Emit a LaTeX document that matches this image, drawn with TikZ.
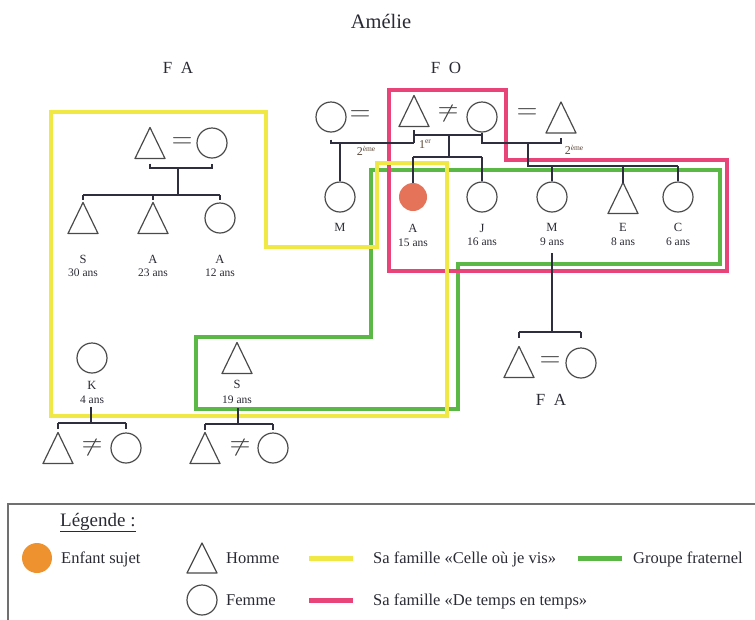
\documentclass[tikz,border=0pt]{standalone}
\usepackage{graphicx}
\usepackage{fontspec}
\setmainfont{Liberation Serif}
\usetikzlibrary{calc}
\definecolor{famyellow}{HTML}{EFE845}
\definecolor{famgreen}{HTML}{5BB847}
\definecolor{fampink}{HTML}{E8447A}
\definecolor{subj}{HTML}{E5735A}
\definecolor{subjleg}{HTML}{EE9230}
\definecolor{symcol}{HTML}{4A4A4A}
\definecolor{linkcol}{HTML}{2E2E3E}
\definecolor{txtcol}{HTML}{2A2A35}
\definecolor{ordcol}{HTML}{5A4636}
\definecolor{boxcol}{HTML}{707070}
\newcommand{\releq}{\scalebox{2.7}{$=$}}
\newcommand{\ordsup}[1]{\raisebox{4.5pt}{\fontsize{7.5}{8}\selectfont #1}}
\tikzset{
  man/.style={minimum width=30pt, minimum height=31pt, inner sep=0pt, outer sep=0pt,
    append after command={\pgfextra{\draw[symcol, line width=1.2pt, line join=round]
      (\tikzlastnode.south west) -- (\tikzlastnode.north) -- (\tikzlastnode.south east) -- cycle;}}},
  woman/.style={circle, draw=symcol, line width=1.2pt, minimum size=30pt, inner sep=0pt},
  subject/.style={circle, fill=subj, minimum size=28pt, inner sep=0pt},
  pname/.style={font=\fontsize{12.5}{13}\selectfont, text=txtcol, inner sep=0pt},
  agetext/.style={font=\fontsize{11.5}{12}\selectfont, text=txtcol, inner sep=0pt},
  kinlink/.style={draw=linkcol, line width=1.1pt},
  rel/.style={text=symcol, inner sep=0pt},
  relneq/.style={text=symcol, inner sep=0pt,
    append after command={\pgfextra{\draw[symcol, line width=1.1pt]
      ([shift={(-4.5pt,-8.5pt)}]\tikzlastnode.center) -- ([shift={(4.5pt,8.5pt)}]\tikzlastnode.center);}}},
  ordtext/.style={font=\fontsize{12}{12}\selectfont, text=ordcol, inner sep=0pt},
  famtitle/.style={font=\fontsize{17}{17}\selectfont, text=txtcol, inner sep=0pt},
  famline/.style={line width=4pt, line join=miter},
  legtext/.style={font=\fontsize{16.5}{17}\selectfont, text=txtcol, anchor=base west, inner sep=0pt},
  legline/.style={line width=5pt},
}
\begin{document}
\begin{tikzpicture}[x=1pt, y=-1pt]
\useasboundingbox (0,0) rectangle (755,619);

% titles
\node[font=\fontsize{20.5}{21}\selectfont, text=txtcol, anchor=base, inner sep=0pt] (title) at (381,28.5) {Amélie};
\node[famtitle] (faL) at (178,68) {F~~A};
\node[famtitle] (fo) at (446,68) {F~~O};

% coloured groups
\draw[famline, famgreen] (371,170) -- (720,170) -- (720,264) -- (458,264) -- (458,409) -- (196,409) -- (196,337) -- (371,337) -- cycle;
\draw[famline, fampink] (389,90) -- (506,90) -- (506,160) -- (727,160) -- (727,271) -- (389,271) -- cycle;
\draw[famline, famyellow] (51,112) -- (266,112) -- (266,247) -- (377,247) -- (377,163) -- (447,163) -- (447,416) -- (51,416) -- cycle;

% ---------- left FA family ----------
\node[man] (gf) at (150,143) {};
\node[rel] (eqA) at (182,143) {\releq};
\node[woman] (gm) at (212,143) {};
\node[man] (s1) at (83,218) {};
\node[man] (a1) at (153,218) {};
\node[woman] (a2) at (220,218) {};
\node[pname] (s1n) at (83,259) {S};
\node[agetext] (s1a) at (83,273) {30 ans};
\node[pname] (a1n) at (153,259) {A};
\node[agetext] (a1a) at (153,273) {23 ans};
\node[pname] (a2n) at (220,259) {A};
\node[agetext] (a2a) at (220,273) {12 ans};
\coordinate (jA) at (178,168);
\coordinate (kA) at (178,195);
\draw[kinlink] ([yshift=-5pt]gf.south) -- (gf.south |- jA) -- (gm.south |- jA) -- ([yshift=-5pt]gm.south);
\draw[kinlink] (jA) -- (kA);
\draw[kinlink] (s1.north |- kA) -- (a2.north |- kA);
\draw[kinlink] (s1.north |- kA) -- ++(0,5);
\draw[kinlink] (a1.north |- kA) -- ++(0,5);
\draw[kinlink] (a2.north |- kA) -- ++(0,5);

% ---------- FO family ----------
\node[woman] (cL) at (331,117) {};
\node[rel] (eq1) at (360,116) {\releq};
\node[man] (tF) at (414,111) {};
\node[relneq] (ne1) at (448,113) {\releq};
\node[woman] (cM) at (482,117) {};
\node[rel] (eq2) at (527,114) {\releq};
\node[man] (tR) at (561,117.5) {};

\node[woman] (mL) at (340,197) {};
\node[subject] (sub) at (413,197) {};
\node[woman] (jJ) at (482,197) {};
\node[woman] (mR) at (552,197) {};
\node[man] (eE) at (623,198) {};
\node[woman] (cC) at (678,197) {};

\node[pname] (mLn) at (340,227) {M};
\node[pname] (subn) at (413,228) {A};
\node[agetext] (suba) at (413,243) {15 ans};
\node[pname] (jJn) at (482,228) {J};
\node[agetext] (jJa) at (482,242) {16 ans};
\node[pname] (mRn) at (552,227) {M};
\node[agetext] (mRa) at (552,242) {9 ans};
\node[pname] (eEn) at (623,227) {E};
\node[agetext] (eEa) at (623,242) {8 ans};
\node[pname] (cCn) at (678,227) {C};
\node[agetext] (cCa) at (678,242) {6 ans};

\coordinate (m1) at (449,135);
\coordinate (m2) at (449,143);
\coordinate (k1) at (449,157);
\coordinate (m3) at (528,143);
\coordinate (k2) at (528,166);

\draw[kinlink] ([yshift=-3.5pt]tF.south) -- (tF.south |- m2);
\draw[kinlink] (tF.south |- m1) -- (cM.south |- m1);
\draw[kinlink] ([yshift=-7pt]cL.south) -- (cL.south |- m2) -- (tF.south |- m2);
\draw[kinlink] (cM.south) -- (cM.south |- m2) -- (tR.south |- m2) -- ([yshift=-5pt]tR.south);
\draw[kinlink] (m1) -- (k1);
\draw[kinlink] (sub.north |- k1) -- (jJ.north |- k1);
\draw[kinlink] (sub.north |- k1) -- (sub.north);
\draw[kinlink] (jJ.north |- k1) -- (jJ.north);
\draw[kinlink] (mL.north |- m2) -- (mL.north);
\draw[kinlink] (m3) -- (k2) -- (cC.north |- k2);
\draw[kinlink] (mR.north |- k2) -- (mR.north);
\draw[kinlink] (eE.north |- k2) -- (eE.north);
\draw[kinlink] (cC.north |- k2) -- (cC.north);

\node[ordtext] (o1) at (366,151) {2\ordsup{ème}};
\node[ordtext] (o2) at (425,144) {1\ordsup{er}};
\node[ordtext] (o3) at (574,150) {2\ordsup{ème}};

% ---------- right FA family ----------
\node[man] (rf) at (519,362) {};
\node[rel] (eqR) at (550,362) {\releq};
\node[woman] (rm) at (581,363) {};
\node[famtitle] (faR) at (551,400) {F~~A};
\coordinate (dR) at (552,253);
\coordinate (jR) at (552,332);
\draw[kinlink] (dR) -- (jR);
\draw[kinlink] (rf.north |- jR) -- (rm.north |- jR);
\draw[kinlink] (rf.north |- jR) -- ++(0,6);
\draw[kinlink] (rm.north |- jR) -- ++(0,6);

% ---------- K ----------
\node[woman] (kK) at (92,358) {};
\node[pname] (kKn) at (92,385) {K};
\node[agetext] (kKa) at (92,400) {4 ans};
\node[man] (kf) at (58,448) {};
\node[relneq] (neK) at (92,447) {\releq};
\node[woman] (km) at (126,448) {};
\coordinate (dK) at (91,407);
\coordinate (jK) at (91,423);
\draw[kinlink] (dK) -- (jK);
\draw[kinlink] (kf.north |- jK) -- (km.north |- jK);
\draw[kinlink] (kf.north |- jK) -- ++(0,6);
\draw[kinlink] (km.north |- jK) -- ++(0,6);

% ---------- S 19 ----------
\node[man] (sS) at (237,358) {};
\node[pname] (sSn) at (237,384) {S};
\node[agetext] (sSa) at (237,400) {19 ans};
\node[man] (sf) at (205,448) {};
\node[relneq] (neS) at (240,447) {\releq};
\node[woman] (sm) at (273,448) {};
\coordinate (dS) at (238,408);
\coordinate (jS) at (238,424);
\draw[kinlink] (dS) -- (jS);
\draw[kinlink] (sf.north |- jS) -- (sm.north |- jS);
\draw[kinlink] (sf.north |- jS) -- ++(0,6);
\draw[kinlink] (sm.north |- jS) -- ++(0,6);

% ---------- legend ----------
\draw[boxcol, line width=1.5pt] (8,625) -- (8,504) -- (760,504);
\node[font=\fontsize{19}{19}\selectfont, text=txtcol, anchor=base west, inner sep=0pt] (legt) at (60,526) {\underline{Légende :}};
\node[circle, fill=subjleg, minimum size=30pt, inner sep=0pt] (lsub) at (37,558) {};
\node[legtext] (lsubt) at (61,563.5) {Enfant sujet};
\node[man, minimum height=30pt] (lman) at (202,558) {};
\node[legtext] (lmant) at (226,563.5) {Homme};
\node[woman] (lwom) at (202,600) {};
\node[legtext] (lwomt) at (226,605.5) {Femme};
\coordinate (ly1) at (309,558); \coordinate (ly2) at (353,558);
\draw[legline, famyellow] (ly1) -- (ly2);
\node[legtext] (lyt) at (373,563.5) {Sa famille «Celle où je vis»};
\coordinate (lg1) at (578,558); \coordinate (lg2) at (622,558);
\draw[legline, famgreen] (lg1) -- (lg2);
\node[legtext] (lgt) at (633,563.5) {Groupe fraternel};
\coordinate (lp1) at (309,600); \coordinate (lp2) at (353,600);
\draw[legline, fampink] (lp1) -- (lp2);
\node[legtext] (lpt) at (373,605.5) {Sa famille «De temps en temps»};
\end{tikzpicture}
\end{document}
